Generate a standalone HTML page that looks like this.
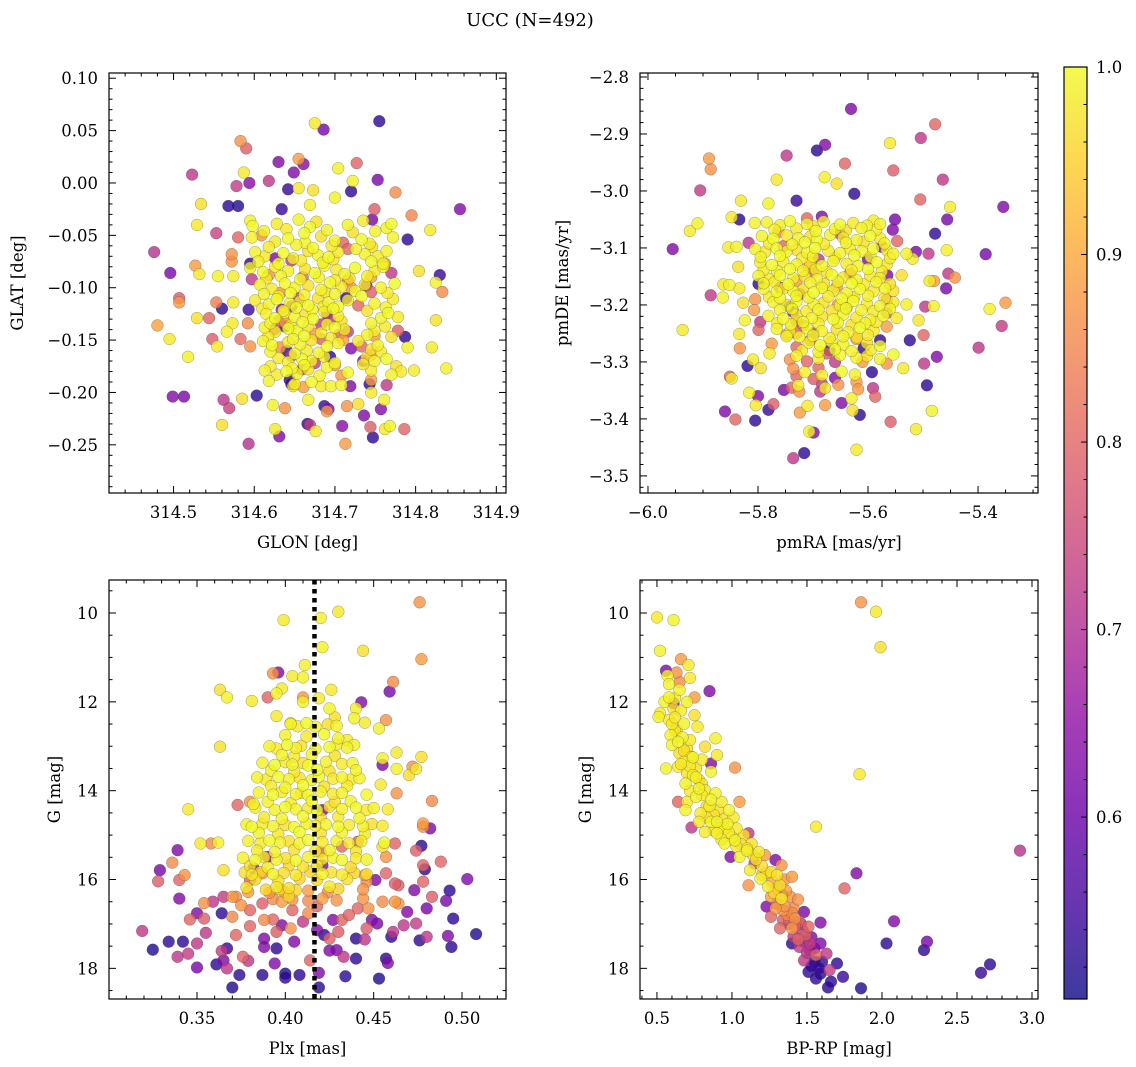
<!DOCTYPE html>
<html><head><meta charset="utf-8"><title>UCC (N=492)</title>
<style>
html,body{margin:0;padding:0;background:#fff;}
svg{display:block;font-family:"DejaVu Serif","Liberation Serif",serif;}
</style></head>
<body>
<svg id="fig" width="1136" height="1067" viewBox="0 0 1136 1067" xmlns="http://www.w3.org/2000/svg">
<rect width="1136" height="1067" fill="#fff"/>
<text x="530" y="26" font-size="18" text-anchor="middle">UCC (N=492)</text>
</svg>
<script>
// ---------- Panel 1: GLON vs GLAT ----------
const glon = [
314.675,314.686,314.755,314.583,314.590,314.630,314.655,314.661,314.727,314.704,
314.523,314.587,314.649,314.753,314.775,314.722,314.720,314.673,314.578,314.594,
314.618,314.642,314.655,314.700,314.855,314.568,314.580,314.534,314.634,314.669,
314.749,314.795,314.746,314.529,314.553,314.580,314.818,314.790,314.476,314.496,
314.527,314.532,314.555,314.572,314.574,314.804,314.830,314.825,314.833,314.507,
314.507,314.553,314.560,314.574,314.593,314.480,314.495,314.518,314.529,314.544,
314.548,314.554,314.566,314.573,314.583,314.592,314.595,314.825,314.820,314.838,
314.798,314.787,314.790,314.778,314.499,314.513,314.562,314.569,314.585,314.603,
314.623,314.638,314.560,314.626,314.631,314.593,314.666,314.669,314.676,314.687,
314.692,314.690,314.709,314.715,314.729,314.736,314.713,314.744,314.747,314.761,
314.757,314.762,314.768,314.786,314.745,314.743,314.764,314.719,314.646,314.648,
314.667,314.683,314.695,
314.595,314.598,314.628,314.655,314.669,314.677,314.716,314.735,314.764,314.770,
314.597,314.626,314.642,314.663,314.683,314.700,314.733,314.743,314.772,314.609,314.710,
314.601,314.613,314.636,314.648,314.667,314.679,314.692,314.704,314.737,314.753,314.764,314.646,314.716,314.626,314.572,
314.595,314.611,314.626,314.642,314.663,314.675,314.687,314.702,314.712,314.725,314.749,314.760,314.618,314.762,314.745,314.595,314.770,
314.607,314.622,314.638,314.650,314.667,314.683,314.694,314.708,314.725,314.737,314.757,314.774,314.597,314.632,314.716,314.745,314.739,
314.601,314.618,314.628,314.644,314.657,314.667,314.679,314.692,314.704,314.716,314.749,314.772,314.714,314.646,314.729,
314.615,314.626,314.638,314.650,314.663,314.673,314.687,314.704,314.757,314.766,314.778,314.630,314.638,314.634,314.694,
314.613,314.626,314.642,314.653,314.667,314.683,314.700,314.712,314.749,314.762,314.675,314.749,314.683,314.716,314.638,
314.611,314.622,314.642,314.657,314.671,314.690,314.704,314.729,314.753,314.632,314.710,314.733,314.683,314.720,
314.630,314.642,314.659,314.671,314.687,314.700,314.739,314.749,314.764,314.646,314.675,314.700,314.745,314.694,
314.613,314.628,314.640,314.653,314.667,314.681,314.716,314.745,314.770,314.782,314.708,314.745,314.659,
314.618,314.650,314.671,314.708,314.661,314.644];
const glat = [
0.057,0.051,0.059,0.040,0.033,0.020,0.023,0.018,0.019,0.014,
0.008,0.010,0.010,0.003,-0.009,0.002,-0.008,-0.007,-0.003,0.000,
0.002,-0.006,-0.005,-0.014,-0.025,-0.022,-0.022,-0.020,-0.025,-0.021,
-0.025,-0.031,-0.035,-0.040,-0.048,-0.052,-0.045,-0.054,-0.066,-0.086,
-0.079,-0.087,-0.089,-0.075,-0.089,-0.084,-0.088,-0.095,-0.104,-0.110,
-0.114,-0.114,-0.120,-0.114,-0.121,-0.136,-0.149,-0.166,-0.129,-0.129,
-0.149,-0.156,-0.142,-0.134,-0.149,-0.134,-0.156,-0.131,-0.157,-0.177,
-0.179,-0.147,-0.157,-0.141,-0.204,-0.204,-0.207,-0.215,-0.206,-0.203,
-0.212,-0.215,-0.231,-0.235,-0.242,-0.249,-0.230,-0.231,-0.237,-0.213,
-0.216,-0.218,-0.232,-0.213,-0.211,-0.222,-0.249,-0.233,-0.243,-0.207,
-0.216,-0.235,-0.232,-0.235,-0.200,-0.192,-0.193,-0.194,-0.192,-0.194,
-0.207,-0.194,-0.194,
-0.036,-0.041,-0.039,-0.035,-0.042,-0.037,-0.040,-0.036,-0.043,-0.039,
-0.052,-0.056,-0.053,-0.057,-0.051,-0.055,-0.054,-0.058,-0.052,-0.050,-0.057,
-0.066,-0.070,-0.067,-0.072,-0.065,-0.069,-0.071,-0.066,-0.068,-0.070,-0.065,-0.074,-0.063,-0.072,-0.068,
-0.081,-0.085,-0.080,-0.084,-0.082,-0.086,-0.079,-0.083,-0.087,-0.081,-0.084,-0.080,-0.088,-0.077,-0.090,-0.077,-0.086,
-0.097,-0.101,-0.096,-0.100,-0.098,-0.102,-0.095,-0.099,-0.103,-0.097,-0.100,-0.096,-0.092,-0.105,-0.093,-0.104,-0.098,
-0.112,-0.116,-0.111,-0.115,-0.113,-0.117,-0.110,-0.114,-0.118,-0.112,-0.115,-0.111,-0.110,-0.118,-0.117,
-0.125,-0.129,-0.124,-0.128,-0.126,-0.130,-0.123,-0.127,-0.129,-0.124,-0.128,-0.132,-0.133,-0.121,-0.131,
-0.138,-0.142,-0.139,-0.141,-0.137,-0.143,-0.138,-0.140,-0.141,-0.137,-0.144,-0.146,-0.135,-0.142,-0.137,
-0.151,-0.155,-0.152,-0.154,-0.150,-0.156,-0.153,-0.151,-0.155,-0.157,-0.150,-0.156,-0.149,-0.158,
-0.167,-0.171,-0.168,-0.170,-0.166,-0.172,-0.167,-0.170,-0.168,-0.165,-0.172,-0.174,-0.164,-0.166,
-0.179,-0.183,-0.180,-0.182,-0.178,-0.184,-0.181,-0.179,-0.183,-0.180,-0.184,-0.188,-0.178,
-0.189,-0.192,-0.190,-0.193,-0.195,-0.188];
const prob1 = [
.98,.62,.53,.87,.79,.63,.88,.64,.80,.99,
.72,.98,.63,.62,.86,.99,.53,.97,.73,.64,
.72,.54,.98,.99,.63,.53,.52,.97,.54,.99,
.79,.85,.62,.98,.74,.80,.98,.53,.71,.62,
.88,.98,.99,.87,.98,.97,.54,.99,.86,.78,
.88,.84,.53,.98,.54,.89,.98,.99,.97,.80,
.79,.98,.99,.98,.81,.86,.87,.97,.98,.99,
.98,.53,.99,.79,.63,.62,.72,.74,.97,.53,
.99,.87,.97,.98,.63,.71,.53,.73,.98,.54,
.62,.88,.64,.87,.97,.63,.88,.79,.53,.99,
.63,.98,.99,.80,.98,.53,.72,.63,.54,.98,
.99,.98,.99,
.99,1,.98,.99,1,.97,.99,.98,.99,1,
.99,.98,1,.99,.97,.99,1,.98,.99,.87,.80,
.99,.98,1,.99,.97,.99,1,.98,.99,.98,.99,.72,.80,.63,.87,
.99,1,.98,.99,.97,1,.99,.98,.99,1,.98,.99,.87,.86,.88,.53,.72,
.99,.98,1,.99,.97,.99,1,.98,.99,.98,.99,1,.72,.87,.80,.79,.63,
.98,.99,1,.99,.98,1,.97,.99,1,.98,.99,.98,.53,.63,.80,
.99,1,.98,.99,.97,1,.99,.98,.99,1,.98,.80,.87,.63,.72,
.99,.98,1,.99,.97,.99,1,.98,.99,.98,.87,.88,.72,.73,.53,
.99,1,.98,.99,.97,1,.99,.98,.99,.87,.88,.80,.79,.63,
.98,.99,1,.99,.98,1,.97,.99,1,.72,.73,.88,.87,.53,
.99,.98,1,.99,.97,.99,1,.98,.99,.98,.87,.88,.72,
.99,.98,1,.99,.88,.53];
const glonCore = [
314.612,314.640,314.662,314.690,314.722,314.750,
314.618,314.652,314.673,314.696,314.726,314.746,
314.605,314.630,314.658,314.685,314.698,314.745,314.760,
314.615,314.633,314.657,314.680,314.700,314.718,314.740,
314.612,314.630,314.645,314.662,314.688,314.700,314.733,314.765,
314.610,314.636,314.652,314.672,314.686,314.698,314.740,314.763,
314.620,314.645,314.660,314.690,314.708,314.745,
314.617,314.648,314.662,314.695,314.740,314.770,
314.620,314.650,314.665,314.680,314.745,314.757,
314.620,314.647,314.662,314.690,314.735,314.776,
314.655,314.690,314.705,314.640,314.720,314.660,314.735,314.625];
const glatCore = [
-0.046,-0.044,-0.048,-0.045,-0.047,-0.046,
-0.061,-0.059,-0.062,-0.060,-0.063,-0.061,
-0.075,-0.077,-0.074,-0.076,-0.073,-0.075,-0.077,
-0.091,-0.089,-0.092,-0.090,-0.093,-0.091,-0.089,
-0.106,-0.108,-0.105,-0.107,-0.104,-0.106,-0.108,-0.105,
-0.120,-0.122,-0.119,-0.121,-0.118,-0.120,-0.122,-0.119,
-0.134,-0.136,-0.133,-0.135,-0.132,-0.134,
-0.147,-0.149,-0.146,-0.148,-0.145,-0.147,
-0.161,-0.163,-0.160,-0.162,-0.159,-0.161,
-0.175,-0.177,-0.174,-0.176,-0.173,-0.175,
-0.110,-0.125,-0.145,-0.160,-0.100,-0.090,-0.170,-0.140];
const prob1Core = [
.99,.98,1,.99,.97,.99,
.98,.99,1,.98,.99,.97,
.99,1,.98,.99,.97,1,.99,
.98,.99,1,.99,.98,.97,.99,
.99,.98,1,.99,.97,.99,1,.98,
.98,.99,1,.99,.98,1,.97,.99,
.99,.98,1,.99,.97,.99,
.98,.99,1,.98,.99,.97,
.99,1,.98,.99,.97,.98,
.98,.99,1,.99,.98,.97,
.72,.63,.80,.53,.88,.80,.63,.72];

// ---------- Panel 2: pmRA vs pmDE ----------
const pmra = [
-5.631,-5.478,-5.504,-5.560,-5.693,-5.678,-5.748,-5.889,-5.886,-5.642,
-5.554,-5.464,-5.905,-5.354,-5.451,-5.456,-5.505,-5.478,-5.910,-5.924,
-5.955,-5.386,-5.457,-5.490,-5.766,-5.679,-5.657,-5.625,-5.730,-5.831,
-5.781,-5.848,-5.834,-5.806,-5.817,-5.854,-5.839,-5.836,-5.863,-5.852,
-5.834,-5.886,-5.864,-5.937,-5.827,-5.807,-5.824,-5.799,-5.834,-5.833,
-5.775,-5.779,-5.748,-5.819,-5.809,-5.795,-5.851,-5.848,-5.800,-5.816,
-5.804,-5.860,-5.841,-5.805,-5.781,-5.772,-5.753,-5.725,-5.724,-5.710,
-5.707,-5.699,-5.716,-5.736,-5.621,-5.678,-5.648,-5.630,-5.628,-5.615,
-5.587,-5.591,-5.559,-5.513,-5.484,-5.493,-5.475,-5.498,-5.499,-5.524,
-5.536,-5.566,-5.399,-5.379,-5.350,-5.357,-5.442,-5.454,-5.458,-5.488,
-5.480,-5.481,-5.496,-5.508,-5.565,-5.539,-5.551,-5.555,-5.547,-5.513,
-5.519,-5.530,
-5.784,-5.760,-5.742,-5.711,-5.699,-5.681,-5.651,-5.627,-5.602,-5.590,-5.578,-5.711,-5.684,
-5.793,-5.772,-5.748,-5.727,-5.705,-5.693,-5.669,-5.645,-5.621,-5.596,-5.578,-5.763,-5.651,
-5.805,-5.787,-5.766,-5.748,-5.730,-5.711,-5.696,-5.672,-5.651,-5.633,-5.611,-5.590,-5.566,-5.554,-5.754,-5.575,
-5.796,-5.775,-5.754,-5.730,-5.705,-5.684,-5.663,-5.639,-5.618,-5.584,-5.566,-5.690,-5.708,
-5.799,-5.781,-5.760,-5.736,-5.715,-5.693,-5.666,-5.645,-5.621,-5.596,-5.578,-5.799,-5.633,-5.730,
-5.790,-5.766,-5.754,-5.736,-5.718,-5.699,-5.684,-5.663,-5.639,-5.615,-5.590,-5.569,-5.554,-5.657,-5.724,
-5.772,-5.748,-5.730,-5.699,-5.681,-5.651,-5.627,-5.602,-5.578,-5.554,-5.530,-5.805,-5.639,-5.566,-5.742,
-5.781,-5.754,-5.730,-5.702,-5.684,-5.663,-5.645,-5.621,-5.596,-5.572,-5.548,-5.730,-5.566,-5.796,-5.736,
-5.766,-5.742,-5.711,-5.684,-5.657,-5.636,-5.615,-5.590,-5.748,-5.566,-5.718,-5.699,
-5.708,-5.687,-5.666,-5.645,-5.602,-5.578,-5.730,-5.705,-5.621,-5.608,-5.578,
-5.730,-5.690,-5.651,-5.621,-5.602,-5.578,-5.554,-5.711,-5.675,-5.742,-5.660,
-5.715,-5.684,-5.648,-5.624,-5.730,-5.699,-5.736,-5.621,-5.660,-5.593,
-5.727,-5.678,-5.654,-5.618,-5.687,-5.684,-5.739];
const pmde = [
-2.856,-2.883,-2.907,-2.916,-2.929,-2.919,-2.938,-2.943,-2.962,-2.952,
-2.964,-2.980,-2.999,-3.028,-3.028,-3.050,-3.015,-3.075,-3.057,-3.070,
-3.102,-3.111,-3.104,-3.110,-2.980,-2.976,-2.987,-3.005,-3.017,-3.017,
-3.022,-3.046,-3.050,-3.056,-3.091,-3.099,-3.098,-3.133,-3.164,-3.165,
-3.171,-3.183,-3.187,-3.244,-3.196,-3.209,-3.227,-3.244,-3.251,-3.276,
-3.268,-3.285,-3.255,-3.307,-3.296,-3.311,-3.326,-3.329,-3.360,-3.354,
-3.376,-3.387,-3.401,-3.403,-3.384,-3.374,-3.349,-3.352,-3.389,-3.377,
-3.422,-3.424,-3.460,-3.469,-3.454,-3.376,-3.372,-3.364,-3.385,-3.393,
-3.361,-3.346,-3.405,-3.418,-3.386,-3.341,-3.291,-3.303,-3.253,-3.262,
-3.311,-3.303,-3.275,-3.207,-3.196,-3.237,-3.152,-3.145,-3.171,-3.158,
-3.158,-3.202,-3.203,-3.227,-3.148,-3.148,-3.050,-3.068,-3.088,-3.107,
-3.119,-3.110,
-3.055,-3.060,-3.053,-3.058,-3.062,-3.054,-3.059,-3.056,-3.061,-3.052,-3.058,-3.048,-3.045,
-3.079,-3.084,-3.078,-3.083,-3.080,-3.085,-3.077,-3.082,-3.086,-3.079,-3.083,-3.072,-3.075,
-3.102,-3.107,-3.101,-3.106,-3.103,-3.108,-3.100,-3.105,-3.109,-3.102,-3.106,-3.101,-3.104,-3.110,-3.097,-3.098,
-3.125,-3.130,-3.124,-3.129,-3.126,-3.131,-3.123,-3.128,-3.132,-3.125,-3.129,-3.120,-3.135,
-3.149,-3.154,-3.148,-3.153,-3.150,-3.155,-3.147,-3.152,-3.156,-3.149,-3.153,-3.163,-3.145,-3.158,
-3.172,-3.177,-3.171,-3.176,-3.173,-3.178,-3.170,-3.175,-3.179,-3.172,-3.176,-3.171,-3.175,-3.168,-3.181,
-3.195,-3.200,-3.194,-3.199,-3.196,-3.201,-3.193,-3.198,-3.202,-3.195,-3.199,-3.190,-3.205,-3.191,-3.203,
-3.219,-3.224,-3.218,-3.223,-3.220,-3.225,-3.217,-3.222,-3.226,-3.219,-3.223,-3.228,-3.214,-3.230,-3.212,
-3.242,-3.247,-3.241,-3.246,-3.243,-3.248,-3.240,-3.245,-3.252,-3.238,-3.236,-3.250,
-3.266,-3.271,-3.265,-3.270,-3.267,-3.272,-3.274,-3.262,-3.260,-3.276,-3.262,
-3.289,-3.294,-3.288,-3.293,-3.290,-3.295,-3.287,-3.299,-3.285,-3.296,-3.300,
-3.318,-3.323,-3.317,-3.322,-3.325,-3.330,-3.312,-3.335,-3.328,-3.318,
-3.341,-3.346,-3.340,-3.348,-3.352,-3.338,-3.345];
const prob2 = [
.63,.80,.72,.98,.53,.63,.72,.88,.87,.80,
.79,.72,.73,.63,.98,.62,.80,.53,.99,.98,
.63,.62,.99,.72,.98,.99,.97,.53,.54,.98,
.99,.98,.53,.99,.72,.98,.99,.97,.98,.99,
.98,.72,.99,.98,.97,.88,.99,.80,.98,.87,
.88,.98,.99,.53,.98,.97,.80,.98,.63,.99,
.98,.63,.80,.53,.54,.79,.62,.87,.88,.98,
.99,.63,.53,.72,.98,.88,.63,.99,.97,.53,
.80,.72,.79,.98,.99,.53,.63,.72,.80,.53,
.98,.87,.72,.99,.88,.73,.87,.72,.62,.98,
.88,.99,.72,.98,.63,.97,.62,.63,.80,.62,
.98,.99,
.99,.98,1,.99,.97,.99,1,.98,.99,.98,.99,.80,.63,
.99,1,.98,.99,.97,1,.99,.98,.99,1,.98,.87,.72,
.99,.98,1,.99,.97,.99,1,.98,.99,.98,.99,1,.98,.99,.80,.63,
.99,1,.98,.99,.97,1,.99,.98,.99,1,.98,.72,.87,
.99,.98,1,.99,.97,.99,1,.98,.99,.98,.99,.53,.80,.88,
.99,1,.98,.99,.97,1,.99,.98,.99,1,.98,.99,.97,.87,.72,
.99,.98,1,.99,.97,.99,1,.98,.99,.98,.99,.87,.88,.80,.53,
.99,1,.98,.99,.97,1,.99,.98,.99,1,.98,.80,.79,.72,.63,
.99,.98,1,.99,.97,.99,1,.98,.87,.88,.80,.72,
.99,1,.98,.99,.97,1,.80,.79,.88,.53,.54,
.99,.98,1,.99,.97,.99,1,.80,.79,.87,.72,
.99,.98,1,.99,.80,.79,.87,.88,.63,.53,
.99,.98,.87,.88,.72,.73,.80];
const pmraCore = [
-5.770,-5.730,-5.695,-5.660,-5.640,-5.612,-5.585,
-5.780,-5.738,-5.715,-5.680,-5.640,-5.608,-5.570,
-5.795,-5.760,-5.720,-5.700,-5.660,-5.625,-5.595,-5.560,
-5.790,-5.765,-5.742,-5.718,-5.695,-5.675,-5.630,-5.600,-5.575,
-5.790,-5.770,-5.745,-5.705,-5.680,-5.655,-5.630,-5.608,-5.585,-5.560,
-5.780,-5.760,-5.730,-5.708,-5.672,-5.648,-5.625,-5.600,-5.570,
-5.760,-5.738,-5.712,-5.690,-5.665,-5.640,-5.612,-5.590,-5.560,
-5.765,-5.740,-5.718,-5.690,-5.655,-5.630,-5.605,-5.585,
-5.725,-5.700,-5.670,-5.645,-5.620,-5.600,
-5.720,-5.690,-5.660,-5.630,-5.595,
-5.700,-5.655,-5.730,-5.610,-5.690,-5.600,-5.760,-5.670];
const pmdeCore = [
-3.068,-3.066,-3.070,-3.067,-3.069,-3.065,-3.068,
-3.092,-3.094,-3.090,-3.093,-3.091,-3.089,-3.092,
-3.116,-3.114,-3.118,-3.115,-3.117,-3.113,-3.116,-3.118,
-3.139,-3.141,-3.137,-3.140,-3.138,-3.142,-3.139,-3.137,-3.141,
-3.162,-3.160,-3.164,-3.161,-3.163,-3.159,-3.162,-3.164,-3.160,-3.163,
-3.186,-3.188,-3.184,-3.187,-3.185,-3.189,-3.186,-3.184,-3.188,
-3.209,-3.207,-3.211,-3.208,-3.210,-3.206,-3.209,-3.211,-3.207,
-3.232,-3.234,-3.230,-3.233,-3.231,-3.235,-3.232,-3.230,
-3.256,-3.254,-3.258,-3.255,-3.257,-3.253,
-3.280,-3.282,-3.278,-3.281,-3.279,
-3.140,-3.200,-3.250,-3.300,-3.310,-3.120,-3.170,-3.280];
const prob2Core = [
.99,.98,1,.99,.97,.99,.98,
.98,.99,1,.98,.99,.97,.99,
.99,1,.98,.99,.97,1,.99,.98,
.98,.99,1,.99,.98,.97,.99,1,.98,
.99,.98,1,.99,.97,.99,1,.98,.99,.97,
.98,.99,1,.99,.98,1,.97,.99,.98,
.99,1,.98,.99,.97,1,.99,.98,.99,
.98,.99,1,.98,.99,.97,.99,.98,
.99,1,.98,.99,.97,.98,
.98,.99,1,.99,.98,
.80,.88,.80,.88,.80,.63,.72,.53];

// ---------- Panel 3: Plx vs G ----------
const plx = [
0.476,0.430,0.420,0.399,0.421,0.444,0.477,0.411,0.393,0.396,
0.404,0.410,0.363,0.367,0.398,0.395,0.426,0.461,0.459,0.390,
0.381,0.410,0.410,0.419,0.443,0.440,0.395,0.425,0.428,0.439,
0.445,0.457,0.453,0.403,0.363,0.430,0.435,0.439,0.463,0.477,
0.455,0.455,0.472,0.474,0.463,0.470,0.454,0.463,0.483,0.345,
0.373,0.380,0.382,0.478,0.482,0.478,0.352,0.358,0.362,0.365,
0.339,0.336,0.329,0.328,0.340,0.343,0.340,0.477,0.474,0.478,
0.479,0.488,0.503,0.493,0.491,0.483,0.478,0.473,0.480,0.495,
0.508,0.492,0.494,0.480,0.476,0.474,0.467,0.469,0.461,0.464,
0.460,0.457,0.458,0.453,0.440,0.434,0.429,0.433,0.419,0.419,
0.414,0.408,0.400,0.400,0.394,0.387,0.388,0.379,0.374,0.370,
0.367,0.361,0.365,0.367,0.364,0.350,0.350,0.345,0.342,0.339,
0.334,0.325,0.319,0.346,0.350,0.354,0.354,0.359,0.364,0.370,
0.365,0.370,0.380,0.387,0.375,0.388,0.393,0.395,0.398,0.403,
0.404,0.413,0.418,0.422,0.425,0.430,0.427,0.432,0.440,0.446,
0.449,0.452,0.441,0.447,0.455,0.462,0.444,0.451,0.445,0.446,
0.457,0.462,0.464,0.457,0.462,0.455,0.441,0.432,0.421,0.420,
0.421,0.390,0.382,0.380,0.387,0.372,0.388,0.376,
0.403,0.407,0.412,0.417,0.424,0.429,
0.391,0.395,0.401,0.406,0.409,0.417,0.425,0.429,0.435,
0.387,0.394,0.400,0.404,0.410,0.413,0.423,0.432,0.438,
0.384,0.389,0.396,0.402,0.408,0.415,0.419,0.427,0.432,0.437,0.442,
0.385,0.393,0.398,0.406,0.409,0.413,0.420,0.427,0.432,0.446,
0.383,0.394,0.400,0.406,0.413,0.418,0.425,0.432,0.440,0.446,0.450,0.458,
0.378,0.381,0.387,0.393,0.400,0.405,0.412,0.417,0.423,0.430,0.436,0.444,0.449,0.455,
0.379,0.386,0.391,0.397,0.402,0.408,0.413,0.421,0.429,0.436,0.443,0.456,
0.376,0.383,0.388,0.395,0.400,0.406,0.413,0.421,0.427,0.432,0.440,0.446,
0.377,0.381,0.386,0.393,0.399,0.406,0.414,0.421,0.426,0.432,0.439,0.446,
0.378,0.389,0.395,0.397,0.402,0.406,0.425,0.430,0.379,0.391,0.399,0.413,0.424,0.444,
0.393,0.398,0.404,0.413,0.421,0.429,0.402];
const gmag3 = [
9.76,9.97,10.11,10.16,10.77,10.85,11.04,11.17,11.36,11.34,
11.42,11.45,11.73,11.90,11.70,11.81,11.73,11.55,11.77,11.90,
11.98,11.90,12.00,11.92,12.01,12.15,12.32,12.15,12.35,12.37,
12.47,12.41,12.60,12.48,13.01,12.82,12.86,12.97,13.14,13.24,
13.27,13.42,13.46,13.51,13.51,13.65,13.86,14.06,14.23,14.42,
14.32,14.25,14.30,14.74,14.85,14.81,15.19,15.19,15.17,15.79,
15.34,15.62,15.79,16.04,16.01,15.90,16.43,15.24,15.35,15.68,
15.77,15.60,15.99,16.25,16.48,16.39,16.05,16.24,16.65,16.88,
17.23,17.27,17.52,17.29,17.37,16.99,17.03,16.73,17.18,16.54,
17.29,17.78,17.88,18.23,17.78,18.18,17.59,17.74,18.43,18.10,
17.82,18.15,18.12,18.21,17.89,18.15,17.52,17.83,18.15,18.43,
18.00,17.91,17.82,17.55,17.61,17.98,17.44,17.67,17.40,17.74,
17.40,17.58,17.16,16.90,16.76,16.88,16.53,16.50,16.76,16.84,
16.39,16.39,16.69,16.54,16.58,16.91,16.90,17.18,17.03,17.10,
16.69,16.76,17.14,17.25,17.33,17.18,16.91,16.91,17.33,17.10,
16.91,16.99,16.65,16.65,16.50,16.50,16.43,16.01,15.90,16.05,
15.86,16.09,16.13,15.49,15.19,15.26,15.15,15.26,15.68,15.38,
14.44,15.49,15.75,16.01,15.86,16.39,17.33,17.74,
12.50,12.55,12.48,12.56,12.51,12.54,
13.00,13.05,12.97,13.04,12.99,13.06,13.02,12.96,13.03,
13.37,13.42,13.36,13.41,13.38,13.43,13.35,13.40,13.38,
13.70,13.75,13.69,13.74,13.71,13.76,13.68,13.73,13.70,13.75,13.72,
14.04,14.09,14.03,14.08,14.05,14.10,14.02,14.07,14.05,14.09,
14.38,14.43,14.37,14.42,14.39,14.44,14.36,14.41,14.38,14.43,14.39,14.42,
14.76,14.81,14.75,14.80,14.77,14.82,14.74,14.79,14.76,14.81,14.77,14.80,14.75,14.79,
15.13,15.18,15.12,15.17,15.14,15.19,15.11,15.16,15.13,15.18,15.14,15.17,
15.51,15.56,15.50,15.55,15.52,15.57,15.49,15.54,15.51,15.56,15.52,15.55,
15.84,15.89,15.83,15.88,15.85,15.90,15.82,15.87,15.84,15.89,15.85,15.88,
16.18,16.23,16.17,16.22,16.19,16.24,16.16,16.21,16.28,16.30,16.27,16.25,16.29,16.22,
16.44,16.50,16.45,16.48,16.43,16.47,16.38];
const prob3 = [
.87,.98,.99,.98,.99,.97,.88,.99,.87,.63,
.98,.99,.97,.99,.98,.99,.98,.86,.62,.80,
.98,.87,.99,.98,.63,.99,.98,.99,.97,.99,
.98,.87,.99,.98,.97,.99,.98,.99,.98,.97,
.99,.63,.87,.98,.99,.97,.98,.87,.86,.98,
.80,.87,.99,.88,.63,.87,.98,.86,.99,.97,
.63,.86,.62,.79,.80,.87,.63,.53,.79,.80,
.53,.80,.63,.53,.62,.79,.80,.63,.62,.53,
.52,.63,.53,.72,.53,.73,.72,.63,.72,.87,
.53,.53,.63,.52,.53,.53,.63,.72,.53,.63,
.80,.53,.52,.53,.63,.53,.63,.72,.53,.52,
.72,.53,.63,.54,.73,.62,.72,.73,.53,.72,
.53,.52,.72,.80,.63,.79,.87,.72,.53,.86,
.73,.88,.80,.79,.87,.86,.80,.79,.63,.87,
.80,.86,.63,.53,.80,.79,.63,.80,.53,.79,
.63,.62,.80,.87,.86,.88,.87,.63,.88,.86,
.80,.79,.78,.87,.80,.97,.79,.80,.63,.80,
.62,.63,.62,.80,.87,.86,.63,.80,
.99,.98,1,.99,.97,.99,
.99,.98,1,.99,.97,.99,1,.98,.99,
.99,1,.98,.99,.97,1,.99,.98,.99,
.99,.98,1,.99,.97,.99,1,.98,.99,.98,.99,
.99,1,.98,.99,.97,1,.99,.98,.99,1,
.98,.99,1,.99,.98,1,.97,.99,1,.98,.99,.98,
.99,1,.98,.99,.97,1,.99,.98,.99,1,.98,.99,.97,.98,
.99,.98,1,.99,.97,.99,1,.98,.99,.98,.99,1,
.99,1,.98,.99,.97,1,.99,.98,.99,1,.98,.99,
.97,.98,.96,.99,.97,.98,.96,.99,.97,.98,.96,.97,
.97,.96,.98,.95,.97,.96,.98,.95,.88,.87,.89,.88,.86,.87,
.86,.88,.87,.86,.88,.87,.96];
const plxCore = [
0.400,0.412,0.422,
0.398,0.405,0.415,0.428,
0.392,0.405,0.418,0.425,0.440,
0.392,0.400,0.410,0.422,0.435,
0.390,0.403,0.415,0.428,0.437,
0.388,0.398,0.410,0.420,0.430,0.442,
0.385,0.396,0.408,0.420,0.432,0.445,
0.384,0.394,0.405,0.417,0.425,0.440,
0.380,0.390,0.402,0.410,0.418,0.437,
0.383,0.396,0.408,0.418,0.435,
0.380,0.410,0.418,0.436,0.445,0.405,0.425,0.395,0.355,0.372];
const gmag3Core = [
12.75,12.78,12.73,
13.20,13.23,13.18,13.21,
13.55,13.58,13.53,13.56,13.54,
13.90,13.93,13.88,13.91,13.89,
14.25,14.28,14.23,14.26,14.24,
14.60,14.63,14.58,14.61,14.59,14.62,
14.95,14.98,14.93,14.96,14.94,14.97,
15.35,15.38,15.33,15.36,15.34,15.37,
15.70,15.73,15.68,15.71,15.69,15.72,
16.00,16.03,15.98,16.01,15.99,
17.05,16.95,16.60,16.80,17.35,17.40,17.60,17.55,17.20,17.25];
const prob3Core = [
.99,.98,1,
.99,.98,1,.97,
.99,.98,1,.97,.99,
.98,.99,1,.97,.98,
.99,.98,1,.97,.99,
.98,.99,1,.97,.98,.99,
.99,.98,1,.97,.99,.98,
.98,.99,.97,.98,.99,.97,
.97,.98,.96,.97,.98,.96,
.96,.97,.95,.96,.97,
.80,.72,.80,.80,.72,.63,.63,.53,.72,.80];
const plxLine = [0.4165];

// ---------- Panel 4: BP-RP vs G ----------
const bprp = [
0.50,0.61,1.86,1.96,1.99,0.52,0.66,0.71,0.56,0.57,
0.63,0.72,0.65,0.85,0.65,0.75,0.62,0.70,0.61,0.52,
0.51,0.61,0.58,0.68,0.77,0.63,0.59,0.72,0.89,0.82,
0.90,0.60,0.65,0.73,0.86,1.02,0.56,0.64,0.76,0.86,
1.85,0.69,0.78,0.82,0.89,0.64,0.70,0.76,0.83,1.05,
0.69,0.79,0.91,0.98,0.73,0.78,0.86,0.95,0.82,0.90,
1.03,1.11,1.08,1.56,0.95,1.03,1.13,0.99,1.05,1.18,
1.15,2.92,1.29,1.33,1.12,1.19,1.26,1.40,1.83,1.75,
1.11,1.24,1.32,1.26,1.33,1.39,1.23,1.29,1.34,1.41,
1.48,1.26,1.34,1.42,1.40,1.51,1.59,2.08,1.32,1.41,
1.49,1.40,1.45,1.52,1.59,2.03,2.30,2.28,1.48,1.56,
1.63,1.70,1.65,1.51,1.59,1.56,1.74,1.64,1.86,2.72,
2.66,
0.55,0.60,0.67,0.70,0.68,0.74,0.80,0.72,0.86,0.93,
0.88,0.97,1.01,0.92,1.00,1.10,1.20,1.22,1.30,1.35,
1.28,1.36,1.44,1.30,1.37,1.45,1.38,1.47,1.53,1.44,
1.55,1.50,1.60,1.53,1.66,0.58,0.66,0.75,0.80];
const gmag4 = [
10.10,10.16,9.76,9.97,10.77,10.85,11.04,11.17,11.30,11.41,
11.34,11.46,11.55,11.76,11.73,11.90,11.92,12.00,12.03,12.26,
12.34,12.15,12.41,12.49,12.56,12.64,12.75,12.86,12.82,13.01,
13.20,12.97,13.16,13.24,13.39,13.48,13.50,13.46,13.50,13.57,
13.63,13.84,13.76,13.99,14.06,14.25,14.25,14.14,14.36,14.25,
14.44,14.51,14.44,14.44,14.83,14.70,14.70,14.63,14.93,14.96,
14.85,14.96,15.00,14.81,15.19,15.26,15.19,15.49,15.49,15.38,
15.64,15.35,15.56,15.68,15.79,15.98,15.83,15.94,15.86,16.20,
16.13,16.16,16.13,16.39,16.43,16.39,16.61,16.65,16.69,16.65,
16.73,16.84,16.91,16.88,17.10,17.06,16.97,16.94,17.10,17.29,
17.25,17.44,17.52,17.44,17.44,17.44,17.40,17.59,17.82,17.70,
17.67,17.89,18.04,18.08,18.12,18.23,18.19,18.43,18.45,17.91,
18.10,
12.00,12.50,12.80,13.05,13.35,13.65,13.85,14.00,14.20,14.25,
14.55,14.75,14.60,14.85,15.05,15.35,15.70,15.45,15.90,16.00,
16.30,16.25,16.45,16.55,16.80,16.95,17.00,17.15,17.30,17.35,
17.55,17.65,17.85,17.95,18.30,11.60,12.20,12.30,13.30];
const prob4 = [
.98,.99,.87,.98,.97,.99,.88,.98,.63,.99,
.87,.98,.86,.63,.99,.88,.98,.99,.62,.98,
.99,.97,.98,.99,.98,.97,.99,.98,.99,.97,
.98,.99,.97,.98,.63,.87,.99,.98,.97,.99,
.98,.99,.97,.98,.99,.80,.98,.99,.97,.88,
.99,.98,.97,.99,.72,.98,.99,.97,.98,.99,
.98,.72,.97,.98,.99,.98,.97,.63,.99,.98,
.72,.71,.63,.87,.98,.99,.97,.88,.63,.80,
.87,.98,.97,.88,.98,.87,.63,.88,.87,.86,
.62,.80,.79,.87,.88,.80,.63,.63,.80,.72,
.79,.53,.72,.73,.63,.53,.62,.53,.72,.80,
.72,.53,.73,.53,.52,.53,.54,.53,.52,.53,
.54,
.99,.98,.99,.97,.98,.99,.97,.98,.99,.98,
.97,.99,.98,.97,.98,.99,.97,.88,.97,.87,
.96,.88,.87,.80,.86,.79,.72,.73,.63,.80,
.62,.72,.53,.54,.53,.99,.98,.97,.98];
const bprpCore = [
0.58,0.62,0.64,0.68,0.72,0.76,0.70,0.80,0.78,0.85,
0.83,0.90,0.95,0.88,0.98,1.02,1.06,1.10,1.14,1.16,
1.20,1.23,1.27,1.30,1.33,1.35,1.40,1.38,1.42,1.46,
1.48,1.52,1.55,1.58,0.66,0.74,0.62,0.93];
const gmag4Core = [
11.90,12.35,12.90,13.10,13.45,13.70,13.60,14.10,13.95,14.35,
14.60,14.70,14.85,14.90,14.95,15.12,15.20,15.30,15.45,15.55,
15.90,15.85,16.05,16.20,16.35,16.60,16.75,16.90,17.05,17.00,
17.40,17.60,17.85,18.00,13.40,13.25,12.65,15.10];
const prob4Core = [
.99,.98,.99,.97,.98,.99,.97,.98,.99,.98,
.97,.99,.98,.97,.98,.99,.97,.98,.96,.97,
.95,.96,.90,.89,.88,.87,.86,.80,.79,.72,
.63,.62,.53,.54,.98,.99,.97,.98];

// colour bar
const cbTicks = [0.6, 0.7, 0.8, 0.9, 1.0];
const cbRange = [0.503, 1.0];

// ---------- rendering ----------
const svg = document.getElementById('fig');
const NS = 'http://www.w3.org/2000/svg';
function mk(tag, attrs, parent){
  const e = document.createElementNS(NS, tag);
  for (const k in attrs) e.setAttribute(k, attrs[k]);
  (parent || svg).appendChild(e);
  return e;
}
const stops = [[0,'#0d0887'],[0.1,'#41049d'],[0.2,'#6a00a8'],[0.3,'#8f0da4'],[0.4,'#b12a90'],[0.5,'#cc4778'],[0.6,'#e16462'],[0.7,'#f2844b'],[0.8,'#fca636'],[0.9,'#fcce25'],[1,'#f0f921']];
function hex(h){return [parseInt(h.substr(1,2),16),parseInt(h.substr(3,2),16),parseInt(h.substr(5,2),16)];}
function plasma(t){
  t = Math.max(0, Math.min(1, t));
  for (let i=1;i<stops.length;i++){
    if (t <= stops[i][0]){
      const a=hex(stops[i-1][1]), b=hex(stops[i][1]);
      const f=(t-stops[i-1][0])/(stops[i][0]-stops[i-1][0]);
      return 'rgb('+a.map((v,j)=>Math.round(v+(b[j]-v)*f)).join(',')+')';
    }
  }
  return stops[stops.length-1][1];
}
function cmap(c){ return plasma((c-cbRange[0])/(cbRange[1]-cbRange[0])); }
function fmt(v,d){ const s=Math.abs(v).toFixed(d); return (v < -1e-9 ? '\u2212' : '') + s; }

function panel(cfg){
  const g = mk('g', {});
  
  
  const sx = v => cfg.bx0 + (v-cfg.xlim[0])/(cfg.xlim[1]-cfg.xlim[0])*(cfg.bx1-cfg.bx0);
  const sy = v => cfg.by1 - (v-cfg.ylim[0])/(cfg.ylim[1]-cfg.ylim[0])*(cfg.by1-cfg.by0);
  const clipId = cfg.name + '-clip';
  const cp = mk('clipPath', {id: clipId}, g);
  mk('rect', {x: cfg.bx0, y: cfg.by0, width: cfg.bx1-cfg.bx0, height: cfg.by1-cfg.by0}, cp);
  const pts = mk('g', {'clip-path': 'url(#'+clipId+')'}, g);
  
  
  const n = Math.min(cfg.xs.length, cfg.ys.length, cfg.cs.length);
  const idx = [];
  for (let i=0;i<n;i++) idx.push(i);
  idx.sort((a,b)=>cfg.cs[a]-cfg.cs[b]);
  for (const i of idx){
    const c = mk('circle', {cx: sx(cfg.xs[i]).toFixed(1), cy: sy(cfg.ys[i]).toFixed(1), r: 5.9,
      fill: cmap(cfg.cs[i]), 'fill-opacity': 0.8, stroke: '#3a3a3a', 'stroke-width': 0.45, 'stroke-opacity': 0.55}, pts);
    
    
  }
  if (cfg.vline){
    for (const v of cfg.vline){
      const l = mk('line', {x1: sx(v), x2: sx(v), y1: cfg.by0, y2: cfg.by1, stroke: '#000', 'stroke-width': 4.5, 'stroke-dasharray': '4.5 4.5'}, pts);
      
      
    }
  }
  const fr = mk('rect', {x: cfg.bx0, y: cfg.by0, width: cfg.bx1-cfg.bx0, height: cfg.by1-cfg.by0, fill: 'none', stroke: '#000', 'stroke-width': 1.2}, g);
  
  
  const tk = mk('g', {stroke: '#000', 'stroke-width': 1}, g);
  const xm = cfg.xmin;
  for (let k=Math.ceil(cfg.xlim[0]/xm - 1e-6); k*xm <= cfg.xlim[1]+1e-9; k++){
    const v = k*xm, px = sx(v);
    const isMaj = Math.abs(v/cfg.xmaj - Math.round(v/cfg.xmaj)) < 1e-4;
    const L = isMaj ? 7 : 3.5;
    mk('line', {x1: px, x2: px, y1: cfg.by1, y2: cfg.by1-L}, tk);
    mk('line', {x1: px, x2: px, y1: cfg.by0, y2: cfg.by0+L}, tk);
  }
  const ym = cfg.ymin;
  const ylo = Math.min(cfg.ylim[0], cfg.ylim[1]), yhi = Math.max(cfg.ylim[0], cfg.ylim[1]);
  for (let k=Math.ceil(ylo/ym - 1e-6); k*ym <= yhi+1e-9; k++){
    const v = k*ym, py = sy(v);
    const isMaj = Math.abs(v/cfg.ymaj - Math.round(v/cfg.ymaj)) < 1e-4;
    const L = isMaj ? 7 : 3.5;
    mk('line', {x1: cfg.bx0, x2: cfg.bx0+L, y1: py, y2: py}, tk);
    mk('line', {x1: cfg.bx1, x2: cfg.bx1-L, y1: py, y2: py}, tk);
  }
  for (const v of cfg.xticks){
    const t = mk('text', {x: sx(v), y: cfg.by1+25, 'font-size': 16.5, 'text-anchor': 'middle'}, g);
    t.textContent = fmt(v, cfg.xdec);
    
    
  }
  for (const v of cfg.yticks){
    const t = mk('text', {x: cfg.bx0-11, y: sy(v)+6, 'font-size': 16.5, 'text-anchor': 'end'}, g);
    t.textContent = fmt(v, cfg.ydec);
    
    
  }
  const xl = mk('text', {x: (cfg.bx0+cfg.bx1)/2, y: cfg.by1+55, 'font-size': 16.5, 'text-anchor': 'middle'}, g);
  xl.textContent = cfg.xlabel;
  
  
  const ylx = cfg.ylabx, yly = (cfg.by0+cfg.by1)/2;
  const yl = mk('text', {x: ylx, y: yly, 'font-size': 16.5, 'text-anchor': 'middle', transform: 'rotate(-90 '+ylx+' '+yly+')'}, g);
  yl.textContent = cfg.ylabel;
  
  
}

panel({name:'glon-glat-panel', xs:glon.concat(glonCore), ys:glat.concat(glatCore), cs:prob1.concat(prob1Core), bx0:109, bx1:506, by0:73, by1:493,
  xlim:[314.420,314.912], ylim:[-0.296,0.105], xmaj:0.1, xmin:0.02, ymaj:0.05, ymin:0.01,
  xticks:[314.5,314.6,314.7,314.8,314.9], xdec:1, yticks:[-0.25,-0.2,-0.15,-0.1,-0.05,0,0.05,0.1], ydec:2,
  xlabel:'GLON [deg]', ylabel:'GLAT [deg]', ylabx:23});
panel({name:'pm-panel', xs:pmra.concat(pmraCore), ys:pmde.concat(pmdeCore), cs:prob2.concat(prob2Core), bx0:640, bx1:1038, by0:73, by1:493,
  xlim:[-6.0145,-5.291], ylim:[-3.530,-2.793], xmaj:0.2, xmin:0.05, ymaj:0.1, ymin:0.02,
  xticks:[-6.0,-5.8,-5.6,-5.4], xdec:1, yticks:[-3.5,-3.4,-3.3,-3.2,-3.1,-3.0,-2.9,-2.8], ydec:1,
  xlabel:'pmRA [mas/yr]', ylabel:'pmDE [mas/yr]', ylabx:568});
panel({name:'plx-g-panel', xs:plx.concat(plxCore), ys:gmag3.concat(gmag3Core), cs:prob3.concat(prob3Core), vline:plxLine, bx0:109, bx1:506, by0:580, by1:999,
  xlim:[0.3002,0.5249], ylim:[18.69,9.257], xmaj:0.05, xmin:0.01, ymaj:2, ymin:0.5,
  xticks:[0.35,0.40,0.45,0.50], xdec:2, yticks:[10,12,14,16,18], ydec:0,
  xlabel:'Plx [mas]', ylabel:'G [mag]', ylabx:60});
panel({name:'cmd-panel', xs:bprp.concat(bprpCore), ys:gmag4.concat(gmag4Core), cs:prob4.concat(prob4Core), bx0:640, bx1:1038, by0:580, by1:999,
  xlim:[0.387,3.04], ylim:[18.69,9.257], xmaj:0.5, xmin:0.1, ymaj:2, ymin:0.5,
  xticks:[0.5,1.0,1.5,2.0,2.5,3.0], xdec:1, yticks:[10,12,14,16,18], ydec:0,
  xlabel:'BP-RP [mag]', ylabel:'G [mag]', ylabx:591});

// colour bar
(function(){
  const x0=1064, x1=1087, y0=67, y1=999;
  const cb = mk('g', {});
  
  
  const defs = mk('defs', {}, cb);
  const lg = mk('linearGradient', {id:'cbgrad', x1:0, y1:1, x2:0, y2:0}, defs);
  for (let i=0;i<=20;i++){
    const t=i/20;
    mk('stop', {offset: t, 'stop-color': plasma(t)}, lg);
  }
  mk('rect', {x:x0, y:y0, width:x1-x0, height:y1-y0, fill:'url(#cbgrad)', 'fill-opacity':0.8}, cb);
  mk('rect', {x:x0, y:y0, width:x1-x0, height:y1-y0, fill:'none', stroke:'#000', 'stroke-width':1.2}, cb);
  const sy = v => y1 - (v-cbRange[0])/(cbRange[1]-cbRange[0])*(y1-y0);
  for (let k=26;k<=50;k++){
    const v=k*0.02, py=sy(v);
    const maj = (k%5===0);
    mk('line', {x1:x1, x2:x1-(maj?6:3.5), y1:py, y2:py, stroke:'#000', 'stroke-width':1}, cb);
  }
  for (const v of cbTicks){
    const t = mk('text', {x:x1+9, y:sy(v)+6, 'font-size':16.5}, cb);
    t.textContent = v.toFixed(1);
    
    
  }
})();
</script>
</body></html>
